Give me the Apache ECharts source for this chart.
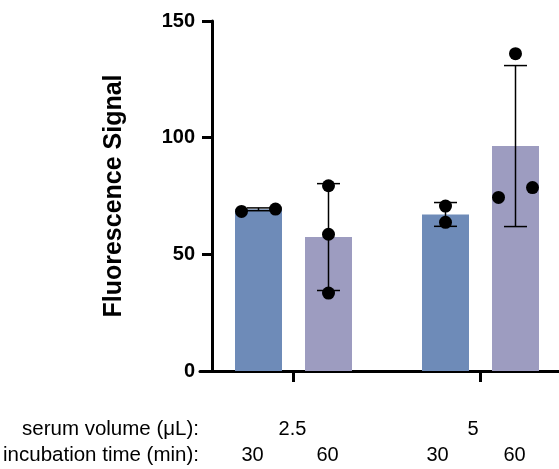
<!DOCTYPE html>
<html lang="en">
<head>
<meta charset="UTF-8">
<title>Fluorescence Signal</title>
<style>
    html, body { margin: 0; padding: 0; background: #fff; }
    #main { width: 559px; height: 469px; }
</style>
</head>
<body>
<div id="main"></div>
<script src="https://cdn.jsdelivr.net/npm/echarts@6/dist/echarts.min.js"></script>
<script>
    // data
    var groups = ['2.5', '5'];          // serum volume (µL)
    var times = ['30', '60'];           // incubation time (min)
    var mean30 = [69.3, 67.1];
    var mean60 = [57.4, 96.4];
    var sd30 = [0.6, 5.1];
    var sd60 = [22.9, 34.5];
    var pts30 = [[68.4, 69.4], [70.7, 63.7]];
    var pts60 = [[79.4, 58.6, 33.4], [136.0, 74.4, 78.6]];
    var yTicks = [0, 50, 100, 150];

    var FONT = 'Liberation Sans, Arial, sans-serif';
    var gridLeft = 200, gridWidth = 374;   // axis runs past the right edge of the picture
    var catW = gridWidth / groups.length;
    var barW = 47, barGapPx = 23;
    var shift = (barW + barGapPx) / 2 / catW;   // bar centre offset in category units
    var dotDx = 17 / catW;

    // error bars and dots live on a hidden value x axis matching the category axis
    var errData = [], dotData = [];
    function addBar(x, mean, sd, pts) {
        errData.push([x, mean - sd, mean + sd]);
        // spread dots that would overlap sideways, like prism does
        var offs = pts.map(function () { return 0; });
        for (var i = 0; i < pts.length; i++) {
            for (var j = i + 1; j < pts.length; j++) {
                if (Math.abs(pts[i] - pts[j]) < 5) {
                    var lo = pts[i] < pts[j] ? i : j, hi = lo === i ? j : i;
                    offs[lo] = -dotDx; offs[hi] = dotDx;
                }
            }
        }
        pts.forEach(function (v, k) { dotData.push([x + offs[k], v]); });
    }
    groups.forEach(function (g, i) {
        addBar(i - shift, mean30[i], sd30[i], pts30[i]);
        addBar(i + shift, mean60[i], sd60[i], pts60[i]);
    });

    function txt(s, x, y, align, size) {
        return {
            type: 'text', x: x, y: y,
            style: { text: s, align: align, verticalAlign: 'middle', fontFamily: FONT, fontSize: size || 20, fill: '#000' }
        };
    }
    var graphics = [
        txt('serum volume (μL):', 199, 429, 'right', 20.5),
        txt('incubation time (min):', 199, 455, 'right', 20.5),
        txt(groups[0], 292.5, 429, 'center'),
        txt(groups[1], 473, 429, 'center'),
        txt(times[0], 252.5, 455, 'center'),
        txt(times[1], 327.5, 455, 'center'),
        txt(times[0], 437.5, 455, 'center'),
        txt(times[1], 514.5, 455, 'center')
    ];

    var option = {
        backgroundColor: '#fff',
        animation: false,
        grid: { left: gridLeft, width: gridWidth, top: 21, height: 350, outerBoundsMode: 'none', containLabel: false },
        xAxis: [{
            type: 'category',
            data: groups,
            axisLine: { onZero: false, lineStyle: { color: '#000', width: 3 } },
            axisTick: { show: true, interval: 0, alignWithLabel: true, length: 11, lineStyle: { color: '#000', width: 3 } },
            axisLabel: { show: true, interval: 0, formatter: function () { return ''; } }
        }, {
            type: 'value',
            min: -0.5,
            max: groups.length - 0.5,
            show: false
        }],
        yAxis: {
            type: 'value',
            min: yTicks[0],
            max: yTicks[yTicks.length - 1],
            interval: yTicks[1] - yTicks[0],
            offset: -12,
            name: 'Fluorescence Signal',
            nameLocation: 'middle',
            nameRotate: 90,
            nameGap: 85,
            nameTextStyle: { fontFamily: FONT, fontWeight: 'bold', fontSize: 25, color: '#000' },
            axisLine: { show: true, onZero: false, lineStyle: { color: '#000', width: 3 } },
            axisTick: { show: true, length: 10, lineStyle: { color: '#000', width: 3 } },
            axisLabel: { margin: 17, fontFamily: FONT, fontWeight: 'bold', fontSize: 20, color: '#000' },
            splitLine: { show: false }
        },
        series: [{
            name: times[0],
            type: 'bar',
            data: mean30,
            barWidth: barW,
            barGap: (barGapPx / barW * 100) + '%',
            itemStyle: { color: '#6E8BB8' },
            z: 2
        }, {
            name: times[1],
            type: 'bar',
            data: mean60,
            barWidth: barW,
            barGap: (barGapPx / barW * 100) + '%',
            itemStyle: { color: '#9D9CC0' },
            z: 2
        }, {
            type: 'custom',
            xAxisIndex: 1,
            data: errData,
            encode: { x: 0, y: [1, 2] },
            z: 3,
            renderItem: function (params, api) {
                var x = api.value(0);
                var lo = api.coord([x, api.value(1)]);
                var hi = api.coord([x, api.value(2)]);
                var c = 11.5;
                var st = { stroke: '#000', lineWidth: 1.5 };
                return {
                    type: 'group',
                    children: [
                        { type: 'line', shape: { x1: lo[0], y1: lo[1], x2: hi[0], y2: hi[1] }, style: st },
                        { type: 'line', shape: { x1: lo[0] - c, y1: lo[1], x2: lo[0] + c, y2: lo[1] }, style: st },
                        { type: 'line', shape: { x1: hi[0] - c, y1: hi[1], x2: hi[0] + c, y2: hi[1] }, style: st }
                    ]
                };
            }
        }, {
            type: 'scatter',
            xAxisIndex: 1,
            data: dotData,
            symbolSize: 13,
            itemStyle: { color: '#000', opacity: 1 },
            z: 4
        }],
        graphic: graphics
    };

    var myChart = echarts.init(document.getElementById('main'));
    myChart.setOption(option);
</script>
</body>
</html>
